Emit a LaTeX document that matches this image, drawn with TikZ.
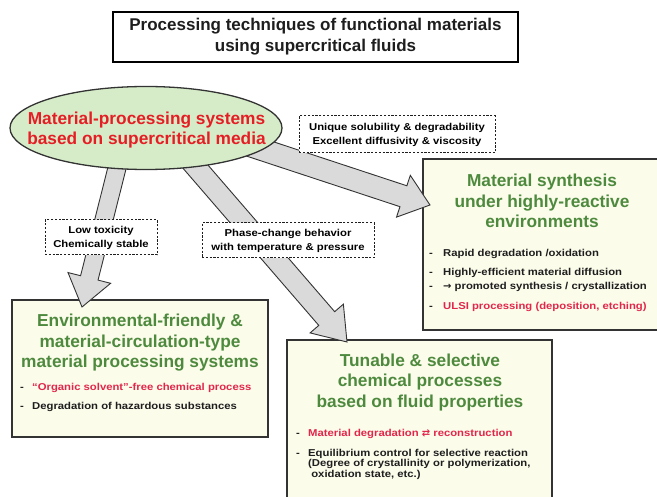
\documentclass[tikz,border=0pt]{standalone}
\usepackage{fontspec}
\setmainfont{Liberation Sans}
\newfontfamily\stretchf[FakeStretch=1.13]{Liberation Sans}
\newfontfamily\symf{DejaVu Sans}
\usetikzlibrary{shapes.geometric,calc}
\definecolor{elltext}{HTML}{E51E25}
\definecolor{bulred}{HTML}{E2264A}
\definecolor{grn}{HTML}{4E8A3E}
\definecolor{ellfill}{HTML}{D6ECC8}
\definecolor{panelfill}{HTML}{FCFCEB}
\definecolor{arrfill}{HTML}{DADADA}
\definecolor{ink}{HTML}{1E1E1E}
\definecolor{edge}{HTML}{333333}
\pgfdeclarelayer{boxes}
\pgfdeclarelayer{arrows}
\pgfsetlayers{boxes,arrows,main}
\newcommand\bigfont{\fontsize{17.3}{20.5}\selectfont\bfseries}
\newcommand\smallfont{\stretchf\fontsize{10}{14}\selectfont\bfseries}
\newcommand\bul[1]{\makebox[#1][l]{\textcolor{ink}{-}}}
\newcommand\fatarrow[6]{% id, from, to, shaft half width, head half width, head length
  \coordinate (#1n) at ($(#3)!#6!(#2)$);
  \draw[bigarrow] ($(#2)!#4!90:(#3)$) -- ($(#1n)!#4!90:(#3)$) -- ($(#1n)!#5!90:(#3)$) -- (#3)
     -- ($(#1n)!#5!-90:(#3)$) -- ($(#1n)!#4!-90:(#3)$) -- ($(#2)!#4!-90:(#3)$) -- cycle;
}
\tikzset{
  bigarrow/.style={draw=edge, line width=0.9pt, fill=arrfill, line join=miter},
  panel/.style={draw=edge, line width=1.3pt, fill=panelfill, inner sep=0pt},
  gtitle/.style={text=grn, font=\bigfont, align=center, inner sep=0pt},
  lbl/.style={draw=ink, dash pattern=on 2.2pt off 1.6pt, line width=1pt, fill=white, inner sep=0pt, align=center, font=\smallfont},
  bullet/.style={anchor=base west, inner sep=0pt, font=\smallfont, text=ink},
}
\begin{document}
\begin{tikzpicture}[x=1pt,y=-1pt]
\useasboundingbox (0,0) rectangle (657,497);

% title
\node[draw=black, line width=2pt, fill=white, minimum width=405pt, minimum height=50pt,
      inner sep=0pt, align=center, font=\fontsize{17}{21}\selectfont\bfseries, text=ink]
      (title) at (315.5,37) {Processing techniques of functional materials\\using supercritical fluids};

% central ellipse
\node[ellipse, draw=edge, line width=1.3pt, fill=ellfill, minimum width=272pt, minimum height=83pt,
      inner sep=0pt] (ell) at (146,128) {};
\node[align=center, font=\bigfont, text=elltext, inner sep=0pt]
      (ellt) at (146.5,130) {Material-processing systems\\based on supercritical media};

% dashed labels
\node[lbl, minimum width=196pt, minimum height=37pt] (l1) at (397,134.5)
      {Unique solubility \& degradability\\Excellent diffusivity \& viscosity};
\node[lbl, minimum width=112pt, minimum height=35pt] (l2) at (101,237.5)
      {Low toxicity\\Chemically stable};
\node[lbl, minimum width=172pt, minimum height=35pt] (l3) at (288,240.5)
      {Phase-change behavior\\with temperature \& pressure};

\begin{pgfonlayer}{boxes}
\fill[white] (0,0) rectangle (657,497);
\node[panel, minimum width=256pt, minimum height=137pt] (env) at (140,368.5) {};
\node[panel, minimum width=239pt, minimum height=171pt] (syn) at (542.5,244.5) {};
\node[panel, minimum width=265pt, minimum height=162pt] (tun) at (419.5,421) {};

\node[gtitle] (envt) at (140,343) {Environmental-friendly \&\\material-circulation-type\\material processing systems};
\node[gtitle] (synt) at (542,201) {Material synthesis\\under highly-reactive\\environments};
\node[gtitle] (tunt) at (420,382.5) {Tunable \& selective\\chemical processes\\based on fluid properties};

\node[bullet, text=bulred] (e1) at (20,390.5) {\bul{12pt}“Organic solvent”-free chemical process};
\node[bullet] (e2) at (20,409.5) {\bul{12pt}Degradation of hazardous substances};

\node[bullet] (s1) at (429,256.5) {\bul{14pt}Rapid degradation /oxidation};
\node[bullet] (s2) at (429,275.5) {\bul{14pt}Highly-efficient material diffusion};
\node[bullet] (s3) at (429,289.5) {\bul{14pt}{\symf →} promoted synthesis / crystallization};
\node[bullet, text=bulred] (s4) at (429,309.5) {\bul{14pt}ULSI processing (deposition, etching)};

\node[bullet, text=bulred] (t1) at (296,436.5) {\bul{12pt}Material degradation {\symf ⇄} reconstruction};
\node[bullet] (t2) at (296,456.5) {\bul{12pt}Equilibrium control for selective reaction};
\node[bullet] (t3) at (308,467) {(Degree of crystallinity or polymerization,};
\node[bullet] (t4) at (308,477.5) {\ oxidation state, etc.)};
\end{pgfonlayer}

% connectors (broad arrows), behind ellipse and labels, above panels
\coordinate (a1s) at (119,160);
\coordinate (a1t) at (82,307);
\coordinate (a2s) at (188,158);
\coordinate (a2t) at (347,342);
\coordinate (a3s) at (245,144);
\coordinate (a3t) at (430,205);
\begin{pgfonlayer}{arrows}
\fatarrow{a1}{a1s}{a1t}{9pt}{22pt}{30pt}
\fatarrow{a2}{a2s}{a2t}{10.5pt}{22pt}{31pt}
\fatarrow{a3}{a3s}{a3t}{11pt}{22pt}{28pt}
\end{pgfonlayer}
\end{tikzpicture}
\end{document}
